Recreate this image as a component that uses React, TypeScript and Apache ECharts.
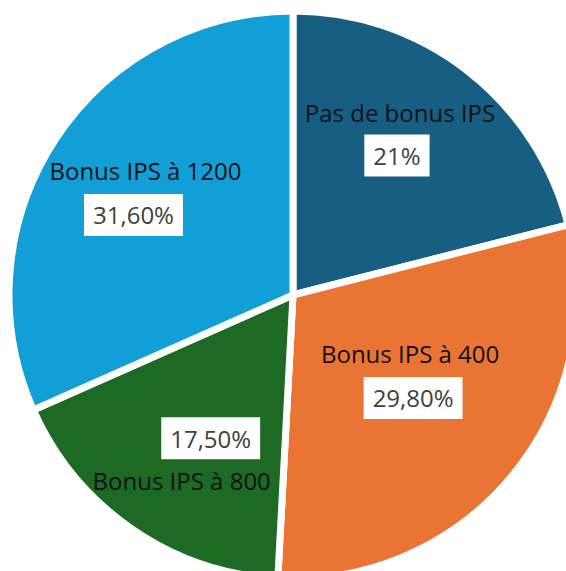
import React, { useEffect, useRef } from "react";
import * as echarts from "echarts";

const categories = ["Pas de bonus IPS", "Bonus IPS à 400", "Bonus IPS à 800", "Bonus IPS à 1200"];
const values = [21, 29.8, 17.5, 31.6];
const colors = ["#175f82", "#e97434", "#1c6a24", "#129fd7"];
const nameOffsets: [number, number][] = [[18, -68], [5, -33], [-29, 66], [-26, -45]];
const pctOffsets: [number, number][] = [[15, -25], [8, 11], [0, 24], [-38, -1]];

const fmtPct = (v: number) =>
  Number.isInteger(v) ? `${v}%` : `${v.toFixed(2).replace(".", ",")}%`;

const FONT = "'Open Sans', sans-serif";

export default function App() {
  const ref = useRef<HTMLDivElement>(null);
  useEffect(() => {
    if (!ref.current) return;
    const chart = echarts.init(ref.current, undefined, { renderer: "svg" });
    const center = [293, 295];
    const radius = 284;
    chart.setOption({
      animation: false,
      series: [
        {
          type: "pie",
          center,
          radius,
          startAngle: 90,
          clockwise: true,
          silent: true,
          itemStyle: { borderColor: "#ffffff", borderWidth: 7 },
          labelLine: { show: false },
          data: categories.map((c, i) => ({
            name: c,
            value: values[i],
            itemStyle: { color: colors[i] },
            label: {
              show: true,
              position: "inside",
              formatter: "{b}",
              color: "#111111",
              fontFamily: FONT,
              fontSize: 24,
              offset: nameOffsets[i],
            },
          })),
        },
        {
          type: "pie",
          center,
          radius,
          startAngle: 90,
          clockwise: true,
          silent: true,
          itemStyle: { color: "transparent", borderWidth: 0 },
          labelLine: { show: false },
          data: categories.map((c, i) => ({
            name: c,
            value: values[i],
            label: {
              show: true,
              position: "inside",
              formatter: fmtPct(values[i]),
              color: "#404040",
              fontFamily: FONT,
              fontSize: 24,
              lineHeight: 24,
              backgroundColor: "#ffffff",
              padding: [9, 9],
              offset: pctOffsets[i],
            },
          })),
        },
      ],
    });
    return () => chart.dispose();
  }, []);
  return (
    <div
      ref={ref}
      style={{ position: "fixed", left: 0, top: 0, width: 566, height: 571, background: "#fff" }}
    />
  );
}
